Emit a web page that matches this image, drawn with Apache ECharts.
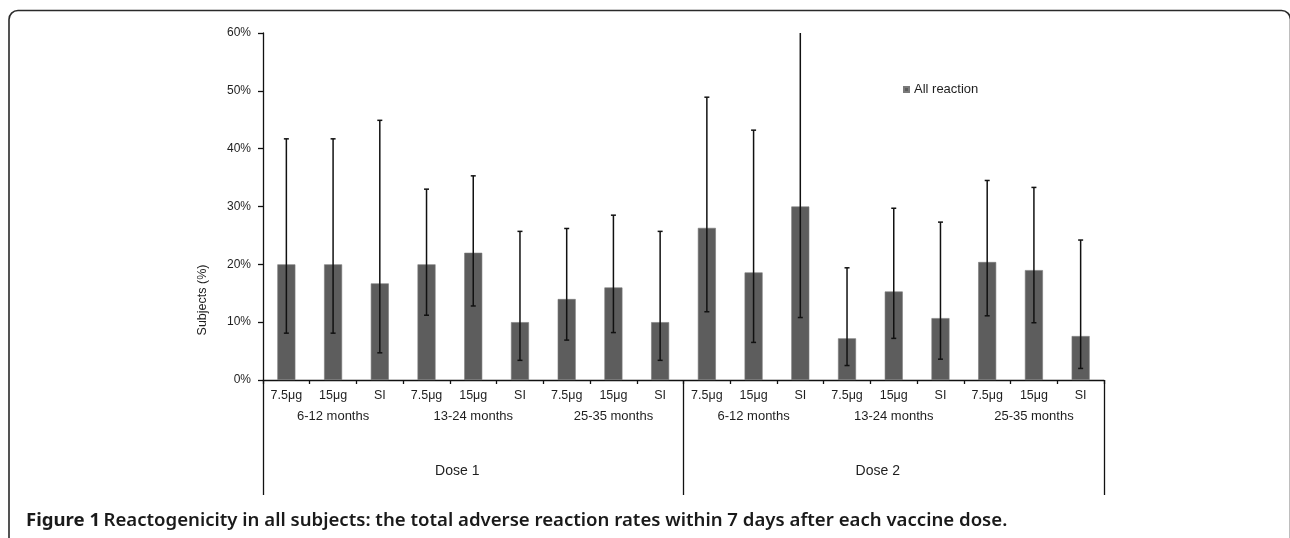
<!DOCTYPE html>
<html>
<head>
<meta charset="utf-8">
<script src="https://cdn.jsdelivr.net/npm/echarts@6/dist/echarts.min.js"></script>
<style>
html,body{margin:0;padding:0;background:#fff;}
#chart{width:1290px;height:538px;}
</style>
</head>
<body>
<div id="chart"></div>
<script>
const categories = ['7.5μg','15μg','SI','7.5μg','15μg','SI','7.5μg','15μg','SI','7.5μg','15μg','SI','7.5μg','15μg','SI','7.5μg','15μg','SI'];
const ageGroups = ['6-12 months','13-24 months','25-35 months','6-12 months','13-24 months','25-35 months'];
const doses = ['Dose 1','Dose 2'];
const rates = [20.0,20.0,16.7,20.0,22.0,10.0,14.0,16.0,10.0,26.3,18.6,30.0,7.2,15.3,10.7,20.4,19.0,7.6];
const lowerCI = [8.1,8.1,4.7,11.2,12.8,3.4,6.9,8.2,3.4,11.8,6.5,10.8,2.5,7.2,3.6,11.1,9.9,2.0];
const upperCI = [41.7,41.7,44.9,33.0,35.3,25.7,26.2,28.5,25.7,48.9,43.2,61.0,19.4,29.7,27.3,34.5,33.3,24.2];
const yTicks = [0,10,20,30,40,50,60];
const seriesName = 'All reaction';
const captionBold = 'Figure 1';
const captionText = 'Reactogenicity in all subjects: the total adverse reaction rates within 7 days after each vaccine dose.';

const chart = echarts.init(document.getElementById('chart'), null, {renderer:'canvas'});
const FONT = '"Liberation Sans", Arial, sans-serif';
const TXT = '#1e1e1e';

const errData = categories.map((c,i)=>[i, lowerCI[i], upperCI[i]]);

const option = {
  animation:false,
  backgroundColor:'#fff',
  grid:{left:263, right:186, top:33, bottom:158, containLabel:false},
  legend:{
    data:[seriesName], left:898, top:78, icon:'rect', itemWidth:5, itemHeight:5,
    textStyle:{fontFamily:FONT, fontSize:13, color:TXT}
  },
  xAxis:[
    {type:'category', data:categories, position:'bottom', gridIndex:0,
     axisLine:{show:true, lineStyle:{color:'#111', width:1.3}},
     axisTick:{show:true, alignWithLabel:false, interval:0, length:4, lineStyle:{color:'#111', width:1.3}},
     axisLabel:{interval:0, margin:9, fontFamily:FONT, fontSize:12.5, color:TXT}},
    {type:'category', data:ageGroups, position:'bottom', gridIndex:0,
     axisLine:{show:false}, axisTick:{show:false},
     axisLabel:{interval:0, margin:30, fontFamily:FONT, fontSize:13, color:TXT}},
    {type:'category', data:doses, position:'bottom', gridIndex:0,
     axisLine:{show:false},
     axisTick:{show:true, alignWithLabel:false, interval:0, length:115, lineStyle:{color:'#111', width:1.3}},
     axisLabel:{interval:0, margin:84, fontFamily:FONT, fontSize:14, color:TXT, padding:[0,32,0,0]}}
  ],
  yAxis:{
    type:'value', min:yTicks[0], max:yTicks[yTicks.length-1], interval:10,
    axisLine:{show:true, lineStyle:{color:'#111', width:1.3}},
    axisTick:{show:true, length:5, lineStyle:{color:'#111', width:1.3}},
    splitLine:{show:false},
    axisLabel:{margin:12, fontFamily:FONT, fontSize:12, color:TXT, formatter:'{value}%'}
  },
  series:[
    {name:seriesName, type:'bar', data:rates, xAxisIndex:0, barWidth:18,
     itemStyle:{color:'#5d5d5d', borderColor:'#7a7a7a', borderWidth:0.6}},
    {name:'CI', type:'custom', xAxisIndex:0, data:errData, clip:true, z:5,
     renderItem:function(params, api){
       const hi = api.coord([api.value(0), api.value(2)]);
       const lo = api.coord([api.value(0), api.value(1)]);
       const hw = 2.5;
       const st = {stroke:'#111', lineWidth:1.5};
       return {type:'group', children:[
         {type:'line', shape:{x1:hi[0], y1:hi[1], x2:lo[0], y2:lo[1]}, style:st},
         {type:'line', shape:{x1:hi[0]-hw, y1:hi[1], x2:hi[0]+hw, y2:hi[1]}, style:st},
         {type:'line', shape:{x1:lo[0]-hw, y1:lo[1], x2:lo[0]+hw, y2:lo[1]}, style:st}
       ]};
     }}
  ],
  graphic:[
    {type:'text', x:203, y:300, rotation:Math.PI/2,
     style:{text:'Subjects (%)', fontFamily:FONT, fontSize:12.5, fill:TXT, align:'center', verticalAlign:'middle'}},
    {type:'rect', shape:{x:9, y:10.5, width:1281.5, height:620, r:9}, style:{fill:'none', stroke:'#2a2a2a', lineWidth:1.6}, z:-1},
    {type:'text', x:26, y:521,
     style:{text:'{b|'+captionBold+'} {r|'+captionText+'}', verticalAlign:'middle',
       rich:{b:{fontFamily:'"Noto Sans", sans-serif', fontWeight:700, fontSize:18.6, fill:'#1a1a1a'},
             r:{fontFamily:'"Noto Sans", sans-serif', fontWeight:600, fontSize:18.6, fill:'#1a1a1a'}}}}
  ]
};
chart.setOption(option);
</script>
</body>
</html>
